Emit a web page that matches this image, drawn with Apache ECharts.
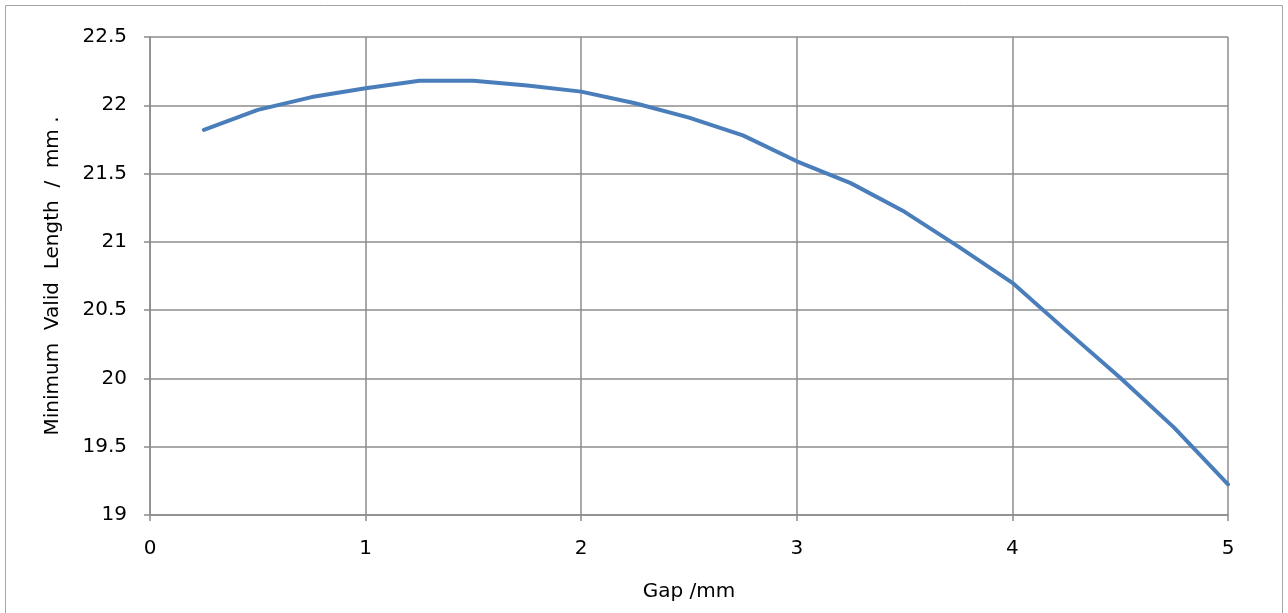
<!DOCTYPE html>
<html>
<head>
<meta charset="utf-8">
<script src="https://cdn.jsdelivr.net/npm/echarts@6/dist/echarts.min.js"></script>
<style>
html,body{margin:0;padding:0;background:#fff;}
#chart{width:1288px;height:613px;}
</style>
</head>
<body>
<div id="chart"></div>
<script>
const gapValues = [0.25, 0.5, 0.75, 1.0, 1.25, 1.5, 1.75, 2.0, 2.25, 2.5, 2.75, 3.0, 3.25, 3.5, 3.75, 4.0, 4.25, 4.5, 4.75, 5.0];
const lengthValues = [21.82, 21.966, 22.06, 22.125, 22.18, 22.18, 22.145, 22.10, 22.015, 21.91, 21.78, 21.59, 21.43, 21.22, 20.965, 20.70, 20.35, 20.005, 19.64, 19.225];
const xAxisTitle = 'Gap /mm';
const yAxisTitle = 'Minimum  Valid  Length  /  mm .';

const seriesData = gapValues.map((g, i) => [g, lengthValues[i]]);
const gridColor = '#8c8c8c';
const font = 'DejaVu Sans, Verdana, sans-serif';

const chart = echarts.init(document.getElementById('chart'), null, {renderer: 'canvas'});
chart.setOption({
  animation: false,
  backgroundColor: '#ffffff',
  graphic: [{
    type: 'rect',
    shape: {x: 5.5, y: 5.5, width: 1277, height: 620},
    style: {fill: 'none', stroke: '#a6a6a6', lineWidth: 1},
    silent: true
  }],
  grid: {left: 150, right: 60, top: 37, bottom: 98},
  xAxis: {
    type: 'value',
    min: 0, max: 5, interval: 1,
    name: xAxisTitle,
    nameLocation: 'middle',
    nameGap: 67,
    nameTextStyle: {fontFamily: font, fontSize: 20, color: '#000'},
    axisLine: {show: true, lineStyle: {color: gridColor, width: 1.5}},
    axisTick: {show: true, length: 6, lineStyle: {color: gridColor, width: 1.5}},
    axisLabel: {fontFamily: font, fontSize: 20, color: '#000', margin: 24},
    splitLine: {show: true, lineStyle: {color: gridColor, width: 1.5}}
  },
  yAxis: {
    type: 'value',
    min: 19, max: 22.5, interval: 0.5,
    name: yAxisTitle,
    nameLocation: 'middle',
    nameRotate: 90,
    nameGap: 87,
    nameTextStyle: {fontFamily: font, fontSize: 20, color: '#000'},
    axisLine: {show: true, lineStyle: {color: gridColor, width: 1.5}},
    axisTick: {show: true, length: 6, lineStyle: {color: gridColor, width: 1.5}},
    axisLabel: {fontFamily: font, fontSize: 20, color: '#000', margin: 23},
    splitLine: {show: true, lineStyle: {color: gridColor, width: 1.5}}
  },
  series: [{
    type: 'line',
    data: seriesData,
    showSymbol: false,
    smooth: false,
    lineStyle: {color: '#4a7ebb', width: 4, cap: 'round', join: 'round'},
    itemStyle: {color: '#4a7ebb'}
  }]
});
</script>
</body>
</html>
